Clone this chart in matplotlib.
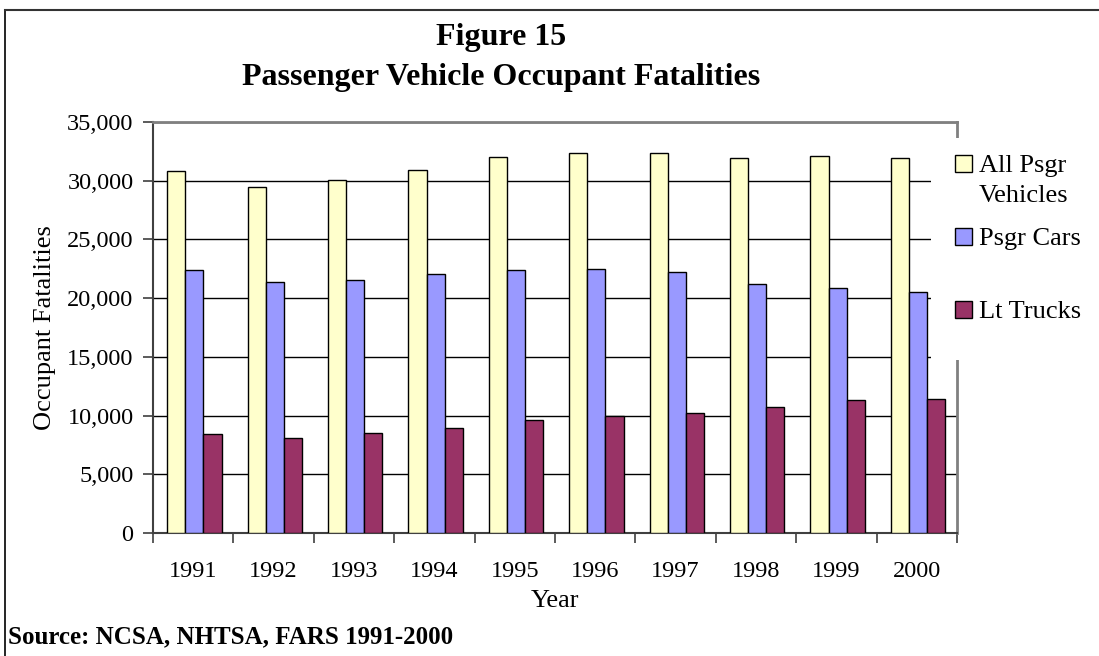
import numpy as np
import matplotlib
matplotlib.use('Agg')
import matplotlib.pyplot as plt
from matplotlib.patches import Rectangle
from matplotlib.lines import Line2D

plt.rcParams['font.family'] = ['Liberation Serif', 'DejaVu Serif']

years = ['1991', '1992', '1993', '1994', '1995', '1996', '1997', '1998', '1999', '2000']
all_psgr = [30800, 29500, 30100, 30900, 32000, 32400, 32400, 31900, 32100, 31900]
psgr_cars = [22400, 21400, 21550, 22050, 22400, 22500, 22200, 21200, 20850, 20500]
lt_trucks = [8430, 8090, 8520, 8900, 9600, 10000, 10250, 10700, 11300, 11400]

series_names = ['All Psgr', 'Psgr Cars', 'Lt Trucks']
colors = ['#FFFFCC', '#9999FF', '#993366']

W, H = 1099, 656
fig = plt.figure(figsize=(W / 100, H / 100), dpi=100)
ax = fig.add_axes([153 / W, 1 - 533 / H, (957 - 153) / W, (533 - 122) / H])

x = np.arange(len(years))
w = 0.225
for i, (vals, c) in enumerate(zip([all_psgr, psgr_cars, lt_trucks], colors)):
    ax.bar(x + (i - 1) * w + 0.015, vals, width=w, color=c, edgecolor='black',
           linewidth=1.0, zorder=3)

ax.set_xlim(-0.5, len(years) - 0.5)
ax.set_ylim(0, 35000)
ax.set_yticks(np.arange(0, 35001, 5000))
ax.set_yticklabels([f'{v:,}' for v in range(0, 35001, 5000)], fontsize=17.5)
ax.yaxis.grid(True, color='black', linewidth=1.0, zorder=0)
ax.set_axisbelow(True)

ax.set_xticks(x)
ax.set_xticklabels(years, fontsize=17.5)
ax.set_xticks(np.arange(-0.5, len(years), 1.0), minor=True)
ax.tick_params(axis='x', which='major', length=0, pad=20)
ax.tick_params(axis='x', which='minor', length=7, width=1.2, direction='out', color='#404040')
ax.tick_params(axis='y', length=7, width=1.2, direction='out', color='#404040', pad=7)

ax.spines['left'].set_color('#404040')
ax.spines['left'].set_linewidth(1.5)
ax.spines['bottom'].set_color('#404040')
ax.spines['bottom'].set_linewidth(1.5)
ax.spines['top'].set_color('#808080')
ax.spines['top'].set_linewidth(2)
ax.spines['right'].set_color('#808080')
ax.spines['right'].set_linewidth(2)

ax.set_xlabel('Year', fontsize=19, labelpad=6)
ax.set_ylabel('Occupant Fatalities', fontsize=19, labelpad=8)

# legend drawn by hand (Excel style): white box over the right wall
def fx(px):
    return px / W

def fy(py):
    return 1 - py / H

fig.patches.append(Rectangle((fx(931), fy(360)), fx(1090) - fx(931), fy(138) - fy(360),
                             transform=fig.transFigure, facecolor='white',
                             edgecolor='none', zorder=2))
handle_bottoms = [172, 245, 318]
for c, yb in zip(colors, handle_bottoms):
    fig.patches.append(Rectangle((fx(955), fy(yb)), fx(17), 17 / H,
                                 transform=fig.transFigure, facecolor=c,
                                 edgecolor='black', linewidth=1.0, zorder=3))
fig.text(fx(979), fy(172), 'All Psgr', fontsize=19, va='baseline', ha='left')
fig.text(fx(979), fy(202), 'Vehicles', fontsize=19, va='baseline', ha='left')
fig.text(fx(979), fy(245), series_names[1], fontsize=19, va='baseline', ha='left')
fig.text(fx(979), fy(318), series_names[2], fontsize=19, va='baseline', ha='left')

fig.text(fx(501), fy(38), 'Figure 15', ha='center', va='center',
         fontsize=23, fontweight='bold')
fig.text(fx(501), fy(78), 'Passenger Vehicle Occupant Fatalities', ha='center',
         va='center', fontsize=23, fontweight='bold')
fig.text(fx(8), fy(637), 'Source: NCSA, NHTSA, FARS 1991-2000', ha='left',
         va='center', fontsize=18, fontweight='bold')

# page border (left and top only)
fig.lines.append(Line2D([fx(5), fx(5)], [0, fy(10)], transform=fig.transFigure,
                        color='black', linewidth=1.2))
fig.lines.append(Line2D([fx(5), 1], [fy(10), fy(10)], transform=fig.transFigure,
                        color='#333333', linewidth=1.5))

fig.savefig('out.png', dpi=100)
